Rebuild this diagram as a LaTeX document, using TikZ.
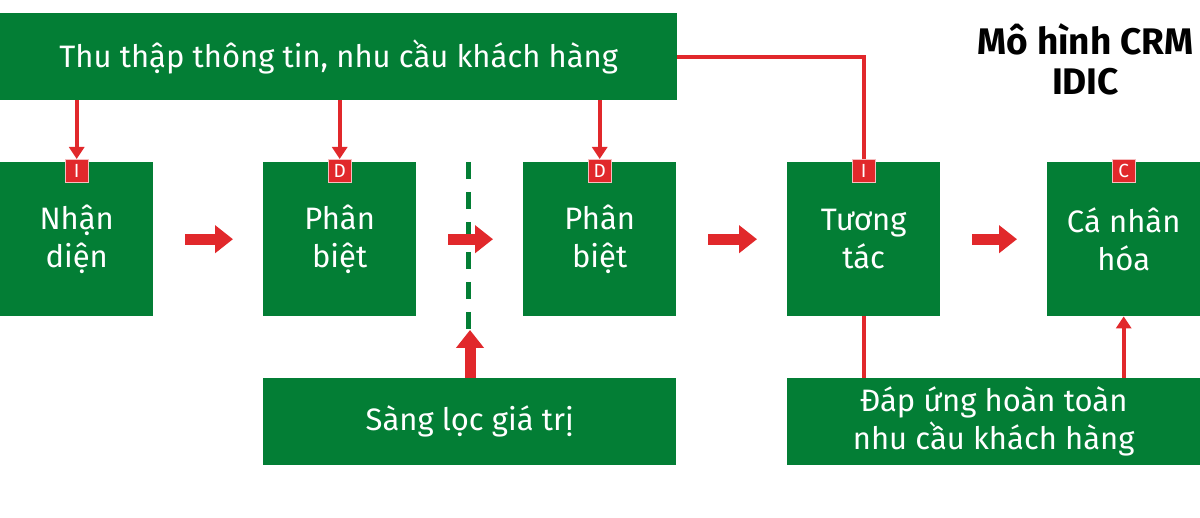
\documentclass[tikz,border=0pt]{standalone}
\usepackage{fontspec}
\setmainfont{Fira Sans}
\usetikzlibrary{arrows.meta}
\definecolor{gr}{HTML}{037E35}
\definecolor{rd}{HTML}{E1282B}
\tikzset{
 box/.style={fill=gr,text=white,font=\fontsize{31}{38}\selectfont,align=center,inner sep=0pt},
 tag/.style={fill=rd,text=white,draw=white!70!rd,line width=0.6pt,minimum size=23pt,inner sep=0pt,font=\fontsize{19}{20}\selectfont},
 thin/.style={rd,line width=4pt},
 tarrow/.style={thin,-{Triangle[width=15pt,length=12pt]}},
 barrow/.style={rd,line width=11pt,-{Triangle[width=27pt,length=18pt]}},
}
\begin{document}
\begin{tikzpicture}[x=1pt,y=-1pt]
\useasboundingbox (0,0) rectangle (1200,518);
\fill[white] (0,0) rectangle (1200,518);
\newcommand\bx[5]{\node[box,minimum width=#3pt,minimum height=#4pt,anchor=north west] (#1) at (#2) {#5};}
\bx{top}{0,13}{677}{87}{Thu thập thông tin, nhu cầu khách hàng}
\bx{b1}{0,162}{153}{154}{Nhận\\diện}
\bx{b2}{263,162}{153}{154}{Phân\\biệt}
\bx{b3}{523,162}{153}{154}{Phân\\biệt}
\bx{b4}{787,162}{153}{154}{Tương\\tác}
\bx{b5}{1047,162}{153}{154}{Cá nhân\\hóa}
\bx{s}{263,378}{413}{87}{Sàng lọc giá trị}
\bx{d}{787,378}{413}{87}{Đáp ứng hoàn toàn\\nhu cầu khách hàng}
\node[font=\fontsize{37}{40}\selectfont\bfseries,align=center,anchor=north east] (title) at (1197,20) {Mô hình CRM\\IDIC};
\foreach \n/\l in {b1/I,b2/D,b3/D,b4/I,b5/C}{
 \node[tag,anchor=north] (t\n) at ([yshift=3pt]\n.north) {\l};
}
\foreach \n in {b1,b2,b3}{ \draw[tarrow] (top.south -| t\n) -- (t\n.north); }
\draw[thin] (top.east) -- (top.east -| tb4) -- (tb4.north);
\coordinate (d1) at (468,162); \coordinate (d2) at (468,378);
\draw[gr,line width=5pt,dash pattern=on 17pt off 13pt] (d1) -- (d2);
\foreach \a/\b in {b1/b2,b2/b3,b3/b4,b4/b5}{
 \draw[barrow] ([xshift=32pt]\a.east) -- ([xshift=-30pt]\b.west);
}
\coordinate (u1) at (470,378); \coordinate (u2) at (470,330);
\draw[barrow] (u1) -- (u2);
\draw[thin] (b4.south) -- (b4.south |- d.north);
\draw[tarrow] (d.north -| b5) -- (b5.south);
\end{tikzpicture}
\end{document}
